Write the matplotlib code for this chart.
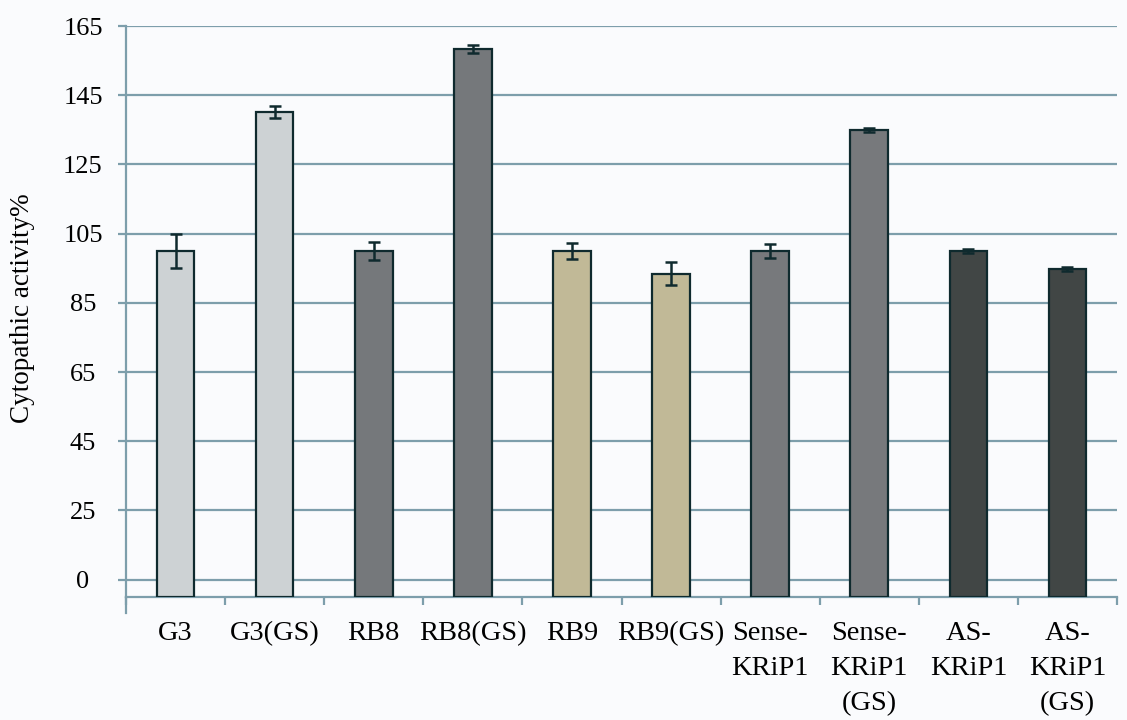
import matplotlib
matplotlib.use("Agg")
import matplotlib.pyplot as plt
import numpy as np

categories = ["G3", "G3(GS)", "RB8", "RB8(GS)", "RB9", "RB9(GS)",
              "Sense-\nKRiP1", "Sense-\nKRiP1\n(GS)", "AS-\nKRiP1", "AS-\nKRiP1\n(GS)"]
values = [100.0, 140.2, 100.0, 158.3, 100.0, 93.4, 100.0, 134.9, 100.0, 94.8]
errors = [5.0, 1.8, 2.5, 1.2, 2.2, 3.3, 2.0, 0.5, 0.5, 0.5]
colors = ["#cdd2d4", "#cdd2d4", "#75787b", "#75787b", "#c1b997", "#c1b997",
          "#77797c", "#77797c", "#414645", "#414645"]
ytick_pos = [5, 25, 45, 65, 85, 105, 125, 145, 165]
ytick_labels = ["0", "25", "45", "65", "85", "105", "125", "145", "165"]

plt.rcParams['font.family'] = ['Liberation Serif', 'DejaVu Serif']

fig = plt.figure(figsize=(11.27, 7.2), dpi=100, facecolor="#fafbfd")
ax = fig.add_axes([126/1127, 1 - 597/720, (1117-126)/1127, (597-26)/720])
ax.set_facecolor("#fafbfd")

grid_c = "#7d9eab"
edge_c = "#0f2a2e"
x = np.arange(len(categories))
ax.bar(x, values, width=0.38, color=colors, edgecolor=edge_c, linewidth=1.6, zorder=3)
ax.errorbar(x, values, yerr=errors, fmt='none', ecolor=edge_c, elinewidth=1.8,
            capsize=4.5, capthick=1.8, zorder=4)

ax.set_xlim(-0.5, len(categories) - 0.5)
ax.set_ylim(0, 165)
ax.set_yticks(ytick_pos)
ax.set_yticklabels(ytick_labels, fontsize=19, ha='center')
ax.yaxis.grid(True, color=grid_c, linewidth=1.6, zorder=0)
ax.tick_params(axis='y', length=6, width=1.6, color=grid_c, pad=25)

ax.set_xticks(np.arange(-0.5, len(categories), 1.0))
ax.set_xticklabels([])
ax.tick_params(axis='x', length=6, width=1.6, color=grid_c)
ax.set_xticks(x, minor=True)
ax.set_xticklabels(categories, minor=True, fontsize=20.5, linespacing=1.55, va='top')
ax.tick_params(axis='x', which='minor', length=0, pad=17)

for s in ['top', 'right']:
    ax.spines[s].set_visible(False)
for s in ['left', 'bottom']:
    ax.spines[s].set_color(grid_c)
    ax.spines[s].set_linewidth(1.6)

# extend left spine slightly below axis
ax.plot([-0.5, -0.5], [0, -4.6], color=grid_c, linewidth=1.6, clip_on=False, zorder=2)

fig.text(23/1127, 1 - 308/720, "Cytopathic activity%", rotation=90,
         fontsize=19.5, ha='center', va='center')

fig.savefig("out.png", dpi=100, facecolor=fig.get_facecolor())
